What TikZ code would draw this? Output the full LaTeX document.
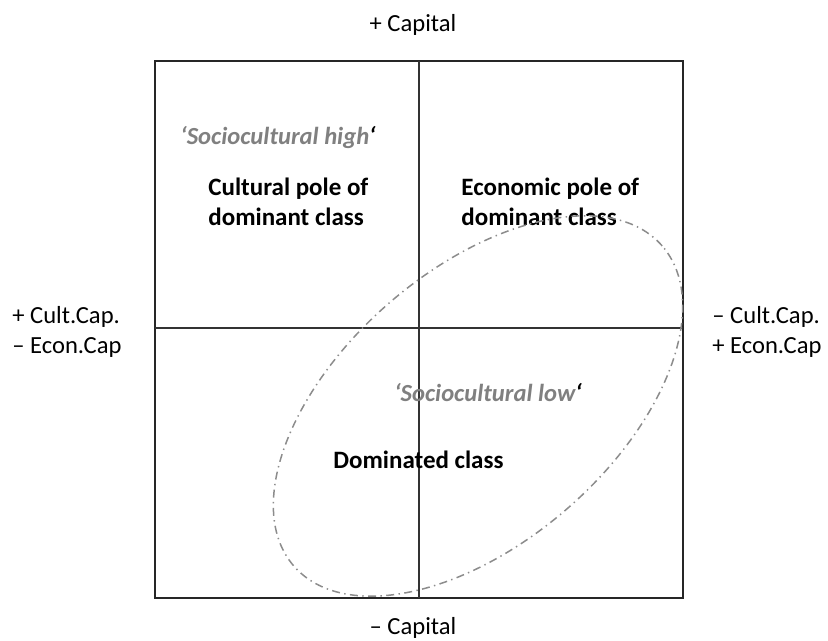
\documentclass[tikz,border=0pt]{standalone}
\usepackage{fontspec}
\setmainfont{Carlito}
\usepackage{tikz}
\usetikzlibrary{positioning}
\definecolor{labelgray}{HTML}{808080}
\definecolor{ringgray}{HTML}{8C8C8C}

\begin{document}
\begin{tikzpicture}[
    x=0.5pt, y=0.5pt,
    every node/.style={font=\fontsize{12.3}{15}\selectfont, inner sep=0pt},
    frame/.style={draw=black!85, line width=1.1pt},
    axisline/.style={draw=black!80, line width=0.8pt},
    polelabel/.style={font=\fontsize{12.5}{15}\selectfont\bfseries, align=left, anchor=west},
    sociolabel/.style={font=\fontsize{12.3}{15}\selectfont\bfseries\itshape, text=labelgray},
    sidelabel/.style={align=left, anchor=west},
    ring/.style={draw=ringgray, line width=0.75pt, dash pattern=on 4pt off 2.2pt on 0.7pt off 2.2pt}
]
\useasboundingbox (0,0) rectangle (828,641);

% Field of positions
\coordinate (sw) at (155,43);
\coordinate (ne) at (683,580);
\coordinate (mid) at (419,313);
\draw[frame] (sw) rectangle (ne);
\draw[axisline] (sw -| mid) -- (ne -| mid);
\draw[axisline] (sw |- mid) -- (ne |- mid);

% Axis labels
\node (capup) at (413,616) {+ Capital};
\node (capdown) at (413,13) {– Capital};
\node[sidelabel] (cultup) at (12,309) {+ Cult.Cap.\\– Econ.Cap};
\node[sidelabel] (cultdown) at (712,309) {– Cult.Cap.\\+ Econ.Cap};

% Class fractions
\node[sociolabel] (high) at (278,503) {‘Sociocultural high\textcolor{black}{‘}};
\node[polelabel] (cultpole) at (208,439) {Cultural pole of\\dominant class};
\node[polelabel] (econpole) at (461,439) {Economic pole of\\dominant class};
\node[sociolabel] (low) at (488,248) {‘Sociocultural low\textcolor{black}{‘}};
\node[polelabel] (dominated) at (333,181) {Dominated class};

% Sociocultural low region
\draw[ring, rotate around={41:(478,235)}] (478,235) ellipse [x radius=244, y radius=136];
\end{tikzpicture}
\end{document}
